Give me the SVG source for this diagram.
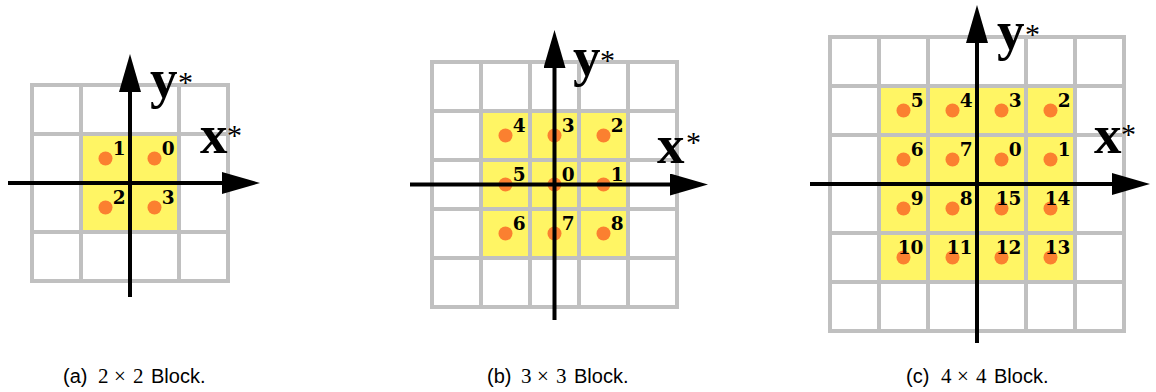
<svg xmlns="http://www.w3.org/2000/svg" width="1156" height="392" viewBox="0 0 1156 392">
<style>
.grid{fill:none;stroke:#c0c0c0;stroke-width:4}
.cell{fill:#fff564}
.dot{fill:#fb8030}
.axis{stroke:#000;stroke-width:4;fill:none}
.num{font-family:"DejaVu Serif",serif;font-weight:bold;font-size:18.5px;fill:#000;text-anchor:end}
.lab{font-family:"Liberation Serif",serif;font-weight:bold;font-size:55px;fill:#000}
.ast{font-family:"Liberation Serif",serif;font-size:30px;fill:#000}
.cap{font-family:"Liberation Sans",Arial,sans-serif;font-size:20px;fill:#000}
.math{font-family:"Liberation Serif",serif;font-size:21px;fill:#000}
</style>
<defs>
<marker id="arrow" viewBox="0 0 38 22" refX="2" refY="11" markerWidth="38" markerHeight="22" markerUnits="userSpaceOnUse" orient="auto">
<path d="M0,0 L38,11 L0,22 z" fill="#000"/>
</marker>
</defs>

<!-- Panel (a) -->
<g id="panel-a">
<rect class="cell" x="81" y="134" width="98" height="98"/>
<path class="grid" d="M32,85 H228 V281 H32 Z M81,85 V281 M130,85 V281 M179,85 V281 M32,134 H228 M32,183 H228 M32,232 H228"/>
<g id="dots-a">
<circle class="dot" cx="105.5" cy="158.5" r="7"/>
<circle class="dot" cx="154.5" cy="158.5" r="7"/>
<circle class="dot" cx="105.5" cy="207.5" r="7"/>
<circle class="dot" cx="154.5" cy="207.5" r="7"/>
</g>
<g id="axes-a">
<line class="axis" x1="130" y1="297" x2="130" y2="90" marker-end="url(#arrow)"/>
<line class="axis" x1="8" y1="183" x2="224" y2="183" marker-end="url(#arrow)"/>
</g>
<text class="num" x="125.5" y="154.5">1</text>
<text class="num" x="174.5" y="154.5">0</text>
<text class="num" x="125.5" y="203.5">2</text>
<text class="num" x="174.5" y="203.5">3</text>
<text class="lab" x="150" y="97">y</text><text class="ast" x="178" y="92">*</text>
<text class="lab" x="200" y="153">x</text><text class="ast" x="227" y="145">*</text>
</g>

<!-- Panel (b) -->
<g id="panel-b">
<g id="cells-b">
<rect class="cell" x="481" y="111" width="49" height="49"/>
<rect class="cell" x="530" y="111" width="49" height="49"/>
<rect class="cell" x="579" y="111" width="49" height="49"/>
<rect class="cell" x="481" y="160" width="49" height="49"/>
<rect class="cell" x="530" y="160" width="49" height="49"/>
<rect class="cell" x="579" y="160" width="49" height="49"/>
<rect class="cell" x="481" y="209" width="49" height="49"/>
<rect class="cell" x="530" y="209" width="49" height="49"/>
<rect class="cell" x="579" y="209" width="49" height="49"/>
</g>
<path class="grid" d="M432,62 H677 V307 H432 Z M481,62 V307 M530,62 V307 M579,62 V307 M628,62 V307 M432,111 H677 M432,160 H677 M432,209 H677 M432,258 H677"/>
<g id="dots-b">
<circle class="dot" cx="505.5" cy="135.5" r="7"/>
<circle class="dot" cx="554.5" cy="135.5" r="7"/>
<circle class="dot" cx="603.5" cy="135.5" r="7"/>
<circle class="dot" cx="505.5" cy="184.5" r="7"/>
<circle class="dot" cx="554.5" cy="184.5" r="7"/>
<circle class="dot" cx="603.5" cy="184.5" r="7"/>
<circle class="dot" cx="505.5" cy="233.5" r="7"/>
<circle class="dot" cx="554.5" cy="233.5" r="7"/>
<circle class="dot" cx="603.5" cy="233.5" r="7"/>
</g>
<g id="axes-b">
<line class="axis" x1="554.5" y1="320" x2="554.5" y2="66" marker-end="url(#arrow)"/>
<line class="axis" x1="410" y1="184.5" x2="672" y2="184.5" marker-end="url(#arrow)"/>
</g>
<text class="num" x="525.5" y="131.5">4</text>
<text class="num" x="574.5" y="131.5">3</text>
<text class="num" x="623.5" y="131.5">2</text>
<text class="num" x="525.5" y="180.5">5</text>
<text class="num" x="574.5" y="180.5">0</text>
<text class="num" x="623.5" y="180.5">1</text>
<text class="num" x="525.5" y="229.5">6</text>
<text class="num" x="574.5" y="229.5">7</text>
<text class="num" x="623.5" y="229.5">8</text>
<text class="lab" x="573" y="75">y</text><text class="ast" x="600" y="70">*</text>
<text class="lab" x="657" y="163">x</text><text class="ast" x="686" y="152">*</text>
</g>

<!-- Panel (c) -->
<g id="panel-c">
<g id="cells-c">
<rect class="cell" x="879" y="86" width="49" height="49"/>
<rect class="cell" x="928" y="86" width="49" height="49"/>
<rect class="cell" x="977" y="86" width="49" height="49"/>
<rect class="cell" x="1026" y="86" width="49" height="49"/>
<rect class="cell" x="879" y="135" width="49" height="49"/>
<rect class="cell" x="928" y="135" width="49" height="49"/>
<rect class="cell" x="977" y="135" width="49" height="49"/>
<rect class="cell" x="1026" y="135" width="49" height="49"/>
<rect class="cell" x="879" y="184" width="49" height="49"/>
<rect class="cell" x="928" y="184" width="49" height="49"/>
<rect class="cell" x="977" y="184" width="49" height="49"/>
<rect class="cell" x="1026" y="184" width="49" height="49"/>
<rect class="cell" x="879" y="233" width="49" height="49"/>
<rect class="cell" x="928" y="233" width="49" height="49"/>
<rect class="cell" x="977" y="233" width="49" height="49"/>
<rect class="cell" x="1026" y="233" width="49" height="49"/>
</g>
<path class="grid" d="M830,37 H1124 V331 H830 Z M879,37 V331 M928,37 V331 M977,37 V331 M1026,37 V331 M1075,37 V331 M830,86 H1124 M830,135 H1124 M830,184 H1124 M830,233 H1124 M830,282 H1124"/>
<g id="dots-c">
<circle class="dot" cx="903.5" cy="110.5" r="7"/>
<circle class="dot" cx="952.5" cy="110.5" r="7"/>
<circle class="dot" cx="1001.5" cy="110.5" r="7"/>
<circle class="dot" cx="1050.5" cy="110.5" r="7"/>
<circle class="dot" cx="903.5" cy="159.5" r="7"/>
<circle class="dot" cx="952.5" cy="159.5" r="7"/>
<circle class="dot" cx="1001.5" cy="159.5" r="7"/>
<circle class="dot" cx="1050.5" cy="159.5" r="7"/>
<circle class="dot" cx="903.5" cy="208.5" r="7"/>
<circle class="dot" cx="952.5" cy="208.5" r="7"/>
<circle class="dot" cx="1001.5" cy="208.5" r="7"/>
<circle class="dot" cx="1050.5" cy="208.5" r="7"/>
<circle class="dot" cx="903.5" cy="257.5" r="7"/>
<circle class="dot" cx="952.5" cy="257.5" r="7"/>
<circle class="dot" cx="1001.5" cy="257.5" r="7"/>
<circle class="dot" cx="1050.5" cy="257.5" r="7"/>
</g>
<g id="axes-c">
<line class="axis" x1="977" y1="343" x2="977" y2="41" marker-end="url(#arrow)"/>
<line class="axis" x1="810" y1="184" x2="1114" y2="184" marker-end="url(#arrow)"/>
</g>
<text class="num" x="923.5" y="106.5">5</text>
<text class="num" x="972.5" y="106.5">4</text>
<text class="num" x="1021.5" y="106.5">3</text>
<text class="num" x="1070.5" y="106.5">2</text>
<text class="num" x="923.5" y="155.5">6</text>
<text class="num" x="972.5" y="155.5">7</text>
<text class="num" x="1021.5" y="155.5">0</text>
<text class="num" x="1070.5" y="155.5">1</text>
<text class="num" x="923.5" y="204.5">9</text>
<text class="num" x="972.5" y="204.5">8</text>
<text class="num" x="1021.5" y="204.5">15</text>
<text class="num" x="1070.5" y="204.5">14</text>
<text class="num" x="923.5" y="253.5">10</text>
<text class="num" x="972.5" y="253.5">11</text>
<text class="num" x="1021.5" y="253.5">12</text>
<text class="num" x="1070.5" y="253.5">13</text>
<text class="lab" x="997" y="49">y</text><text class="ast" x="1025" y="44">*</text>
<text class="lab" x="1094" y="153">x</text><text class="ast" x="1121" y="144">*</text>
</g>

<!-- Captions -->
<g id="captions">
<text class="cap" x="63" y="383">(a)</text>
<text class="math" x="98" y="383">2</text><text class="math" x="114" y="383">×</text><text class="math" x="133" y="383">2</text>
<text class="cap" x="151" y="383">Block.</text>
<text class="cap" x="487" y="383">(b)</text>
<text class="math" x="521" y="383">3</text><text class="math" x="537" y="383">×</text><text class="math" x="556" y="383">3</text>
<text class="cap" x="574" y="383">Block.</text>
<text class="cap" x="906" y="383">(c)</text>
<text class="math" x="941" y="383">4</text><text class="math" x="957" y="383">×</text><text class="math" x="976" y="383">4</text>
<text class="cap" x="994" y="383">Block.</text>
</g>
</svg>
